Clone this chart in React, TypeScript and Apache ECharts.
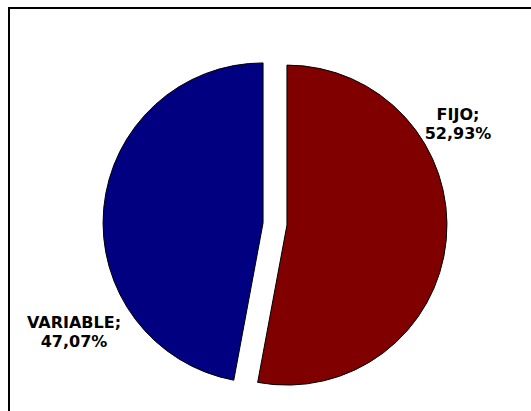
import React, { useEffect, useRef } from "react";
import * as echarts from "echarts";

const categories = ["FIJO", "VARIABLE"];
const values = [52.93, 47.07];
const colors = ["#800000", "#000080"];
const labelPositions = [
  [458, 124],
  [74, 332],
];

const fmt = (name: string, v: number) =>
  name + ";\n" + v.toFixed(2).replace(".", ",") + "%";

export default function App() {
  const ref = useRef<HTMLDivElement>(null);
  useEffect(() => {
    if (!ref.current) return;
    const chart = echarts.init(ref.current, null, { renderer: "svg" });
    chart.setOption({
      animation: false,
      backgroundColor: "#ffffff",
      graphic: [
        {
          type: "rect",
          shape: { x: 9, y: 8, width: 700, height: 700 },
          style: { fill: "none", stroke: "#000", lineWidth: 2 },
          silent: true,
        },
        ...categories.map((c, i) => ({
          type: "text",
          x: labelPositions[i][0],
          y: labelPositions[i][1],
          silent: true,
          style: {
            text: fmt(c, values[i]),
            fill: "#000",
            font: "bold 16px 'DejaVu Sans'",
            lineHeight: 19,
            align: "center",
            verticalAlign: "middle",
          },
        })),
      ],
      series: [
        {
          type: "pie",
          center: [275, 224],
          radius: 160,
          startAngle: 90,
          clockwise: true,
          selectedMode: "multiple",
          selectedOffset: 12,
          emphasis: { disabled: true },
          itemStyle: { borderColor: "#000", borderWidth: 1 },
          labelLine: { show: false },
          label: { show: false },
          data: categories.map((c, i) => ({
            name: c,
            value: values[i],
            selected: true,
            itemStyle: { color: colors[i] },
          })),
        },
      ],
    });
    return () => chart.dispose();
  }, []);
  return (
    <div
      ref={ref}
      style={{ position: "absolute", left: 0, top: 0, width: 531, height: 411 }}
    />
  );
}
